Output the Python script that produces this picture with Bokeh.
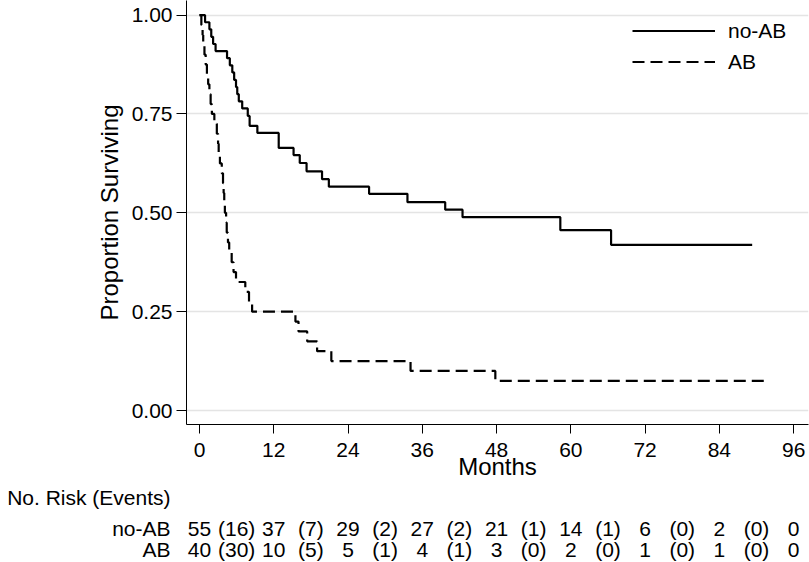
from bokeh.plotting import figure
from bokeh.models import Range1d, FixedTicker, NumeralTickFormatter, ColumnDataSource
from bokeh.layouts import column
from bokeh.embed import file_html
from bokeh.resources import INLINE
from bokeh.core.properties import value

# ---------------- data ----------------
NOAB_T = [0, 0.9, 1.6, 1.9, 2.2, 2.6, 4.45, 4.9, 5.3, 5.6, 5.9, 6.1, 6.35, 6.9,
          7.8, 8.1, 9.35, 12.8, 15.2, 16.2, 17.3, 19.8, 20.9, 27.4, 33.6, 39.7,
          42.5, 58.3, 66.5, 89.3]
NOAB_S = [1.0, 0.982, 0.964, 0.945, 0.927, 0.909, 0.891, 0.873, 0.855, 0.836,
          0.818, 0.800, 0.782, 0.764, 0.745, 0.720, 0.702, 0.664, 0.646, 0.626,
          0.605, 0.585, 0.566, 0.548, 0.527, 0.508, 0.489, 0.456, 0.419, 0.419]

AB_T = [0, 0.3, 0.5, 0.6, 0.8, 1.0, 1.2, 1.4, 1.6, 1.8, 2.0, 2.4, 2.8, 3.0, 3.1,
        3.3, 3.6, 3.8, 3.9, 4.0, 4.1, 4.3, 4.4, 4.6, 4.8, 5.2, 5.5, 5.9, 7.4,
        8.0, 8.5, 15.5, 16.0, 17.4, 19.0, 21.3, 34.1, 47.8, 91.2]
AB_S = [1.0, 0.975, 0.95, 0.925, 0.9, 0.875, 0.85, 0.825, 0.8, 0.775, 0.75,
        0.725, 0.7, 0.675, 0.65, 0.625, 0.6, 0.575, 0.55, 0.525, 0.5, 0.475,
        0.45, 0.425, 0.4, 0.375, 0.35, 0.325, 0.3, 0.275, 0.25, 0.225, 0.2,
        0.175, 0.15, 0.125, 0.1, 0.075, 0.075]

X_TICKS = [0, 12, 24, 36, 48, 60, 72, 84, 96]
Y_TICKS = [0.0, 0.25, 0.5, 0.75, 1.0]

GROUPS = ["no-AB", "AB"]
RISK_TIMES = [0, 12, 24, 36, 48, 60, 72, 84, 96]
EVENT_TIMES = [6, 18, 30, 42, 54, 66, 78, 90]
NOAB_RISK = [55, 37, 29, 27, 21, 14, 6, 2, 0]
NOAB_EVENTS = [16, 7, 2, 2, 1, 1, 0, 0]
AB_RISK = [40, 10, 5, 4, 3, 2, 1, 1, 0]
AB_EVENTS = [30, 5, 1, 1, 0, 0, 0, 0]
HEADER = "No. Risk (Events)"
X_LABEL = "Months"
Y_LABEL = "Proportion Surviving"

# ---------------- layout / style ----------------
FONT = "Liberation Sans"
TICK_FS = "21px"
TITLE_FS = "24px"
W = 809
LEFT, RIGHT = 186, 1
XMIN, XMAX = -2.1, 98.4
YMIN, YMAX = -0.0354, 1.037
H1, BOTTOM1 = 482, 58
H2 = 80
ROW_Y = [15, 46, 67]        # row centres inside the table strip (px from its top)

xr = Range1d(XMIN, XMAX)

p = figure(width=W, height=H1, x_range=xr, y_range=Range1d(YMIN, YMAX),
           output_backend="svg", toolbar_location=None,
           min_border_left=LEFT, min_border_right=RIGHT, min_border_top=0,
           min_border_bottom=BOTTOM1)
p.outline_line_color = None
p.xgrid.visible = False
p.ygrid.grid_line_color = "#e4e4e4"
p.ygrid.grid_line_width = 1.5

for ax in (p.xaxis[0], p.yaxis[0]):
    ax.axis_line_color = "black"
    ax.axis_line_width = 1
    ax.major_tick_line_color = "black"
    ax.major_tick_line_width = 1
    ax.major_tick_in = 0
    ax.minor_tick_line_color = None
    ax.major_label_text_font = FONT
    ax.major_label_text_font_size = TICK_FS
    ax.major_label_text_color = "black"
    ax.axis_label_text_font = FONT
    ax.axis_label_text_font_size = TITLE_FS
    ax.axis_label_text_font_style = "normal"
    ax.axis_label_text_color = "black"

p.xaxis.ticker = FixedTicker(ticks=X_TICKS)
p.xaxis.major_tick_out = 9
p.xaxis.major_label_standoff = 9
p.xaxis.axis_label = X_LABEL
p.xaxis.axis_label_standoff = -7

p.yaxis.ticker = FixedTicker(ticks=Y_TICKS)
p.yaxis.formatter = NumeralTickFormatter(format="0.00")
p.yaxis.major_tick_out = 10
p.yaxis.major_label_standoff = 4
p.yaxis.axis_label = Y_LABEL
p.yaxis.axis_label_standoff = 6

p.step(NOAB_T, NOAB_S, mode="after", line_color="black", line_width=2.2,
       legend_label=GROUPS[0])
p.step(AB_T, AB_S, mode="after", line_color="black", line_width=2.2,
       line_dash="12 6", legend_label=GROUPS[1])

lg = p.legend[0]
lg.location = (446, 347)
lg.margin = 0
lg.padding = 0
lg.spacing = 0
lg.glyph_width = 83
lg.glyph_height = 31
lg.label_height = 31
lg.label_standoff = 13
lg.label_text_font = FONT
lg.label_text_font_size = TICK_FS
lg.label_text_color = "black"
lg.background_fill_alpha = 0
lg.border_line_color = None

# ---------------- risk table strip ----------------
p2 = figure(width=W, height=H2, x_range=xr, y_range=Range1d(H2, 0),
            output_backend="svg", toolbar_location=None,
            min_border_left=LEFT, min_border_right=RIGHT, min_border_top=0,
            min_border_bottom=0, x_axis_location=None)
p2.outline_line_color = None
p2.grid.visible = False
ya = p2.yaxis[0]
ya.ticker = FixedTicker(ticks=ROW_Y)
ya.major_label_overrides = {ROW_Y[0]: HEADER, ROW_Y[1]: GROUPS[0],
                            ROW_Y[2]: GROUPS[1]}
ya.axis_line_color = None
ya.major_tick_line_color = None
ya.minor_tick_line_color = None
ya.major_tick_in = 0
ya.major_tick_out = 0
ya.major_label_standoff = 16
ya.major_label_text_font = FONT
ya.major_label_text_font_size = TICK_FS
ya.major_label_text_color = "black"

xs, ys, ts = [], [], []
for gi, (risk, events) in enumerate([(NOAB_RISK, NOAB_EVENTS), (AB_RISK, AB_EVENTS)]):
    for t, n in zip(RISK_TIMES, risk):
        xs.append(t); ys.append(ROW_Y[gi + 1]); ts.append(str(n))
    for t, e in zip(EVENT_TIMES, events):
        xs.append(t); ys.append(ROW_Y[gi + 1]); ts.append("(%d)" % e)
cells = ColumnDataSource(dict(x=xs, y=ys, text=ts))
p2.text(x="x", y="y", text="text", source=cells, text_align="center",
        text_baseline="middle", text_font=value(FONT),
        text_font_size=value(TICK_FS), text_color="black")

open("out.html", "w").write(file_html(column(p, p2), INLINE))
